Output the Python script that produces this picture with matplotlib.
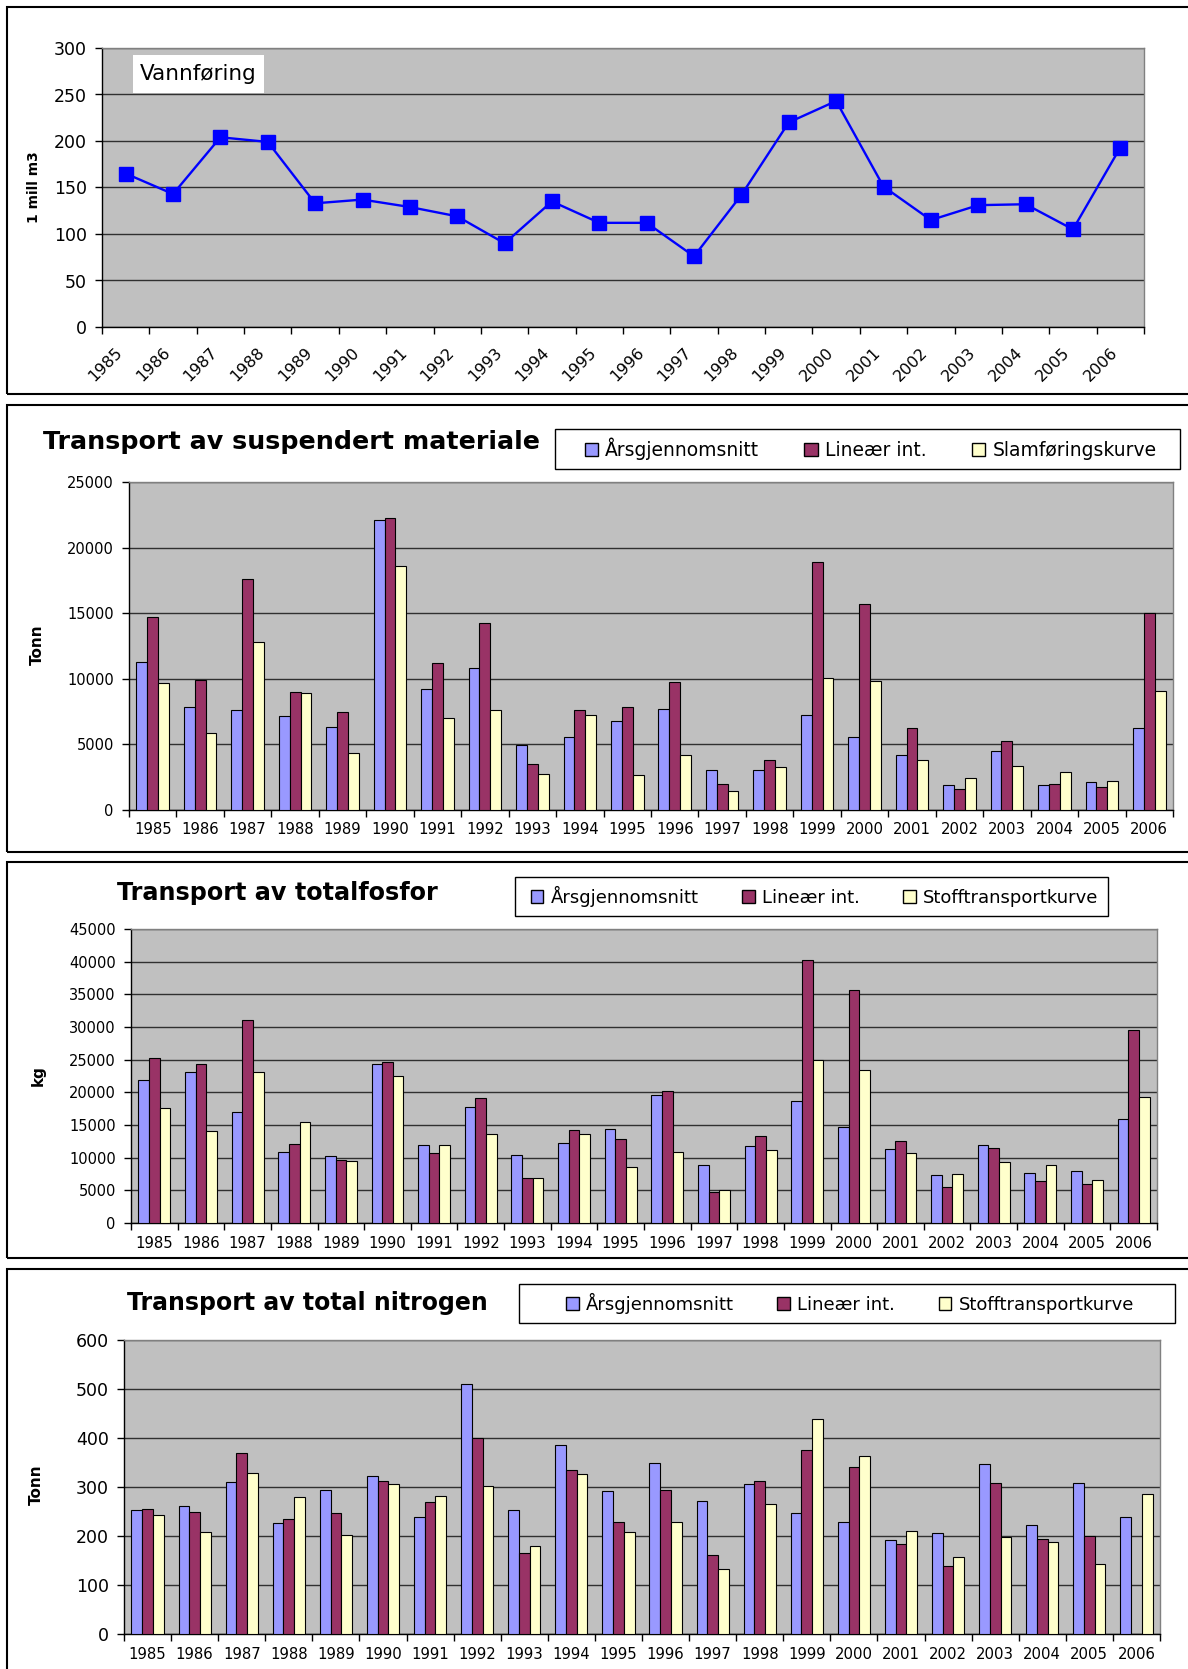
import numpy as np
import matplotlib.pyplot as plt
from matplotlib.patches import Rectangle, Patch

plt.rcParams["font.family"] = ["DejaVu Sans"]

W, H = 1188, 1669

# ------------------------------
# Data
# ------------------------------
years = [str(y) for y in range(1985, 2007)]

vannforing = [165, 143, 204, 199, 133, 137, 129, 119, 90, 135, 112,
              112, 76, 142, 220, 243, 151, 115, 131, 132, 105, 193]

# suspendert materiale (tonn)
ss_arsgj = [11300, 7840, 7610, 7160, 6290, 22130, 9240, 10790, 4920, 5530, 6780,
            7690, 3070, 3070, 7230, 5530, 4210, 1900, 4470, 1900, 2130, 6220]
ss_linear = [14700, 9920, 17610, 9010, 7440, 22230, 11220, 14240, 3530, 7610, 7840,
             9770, 1980, 3830, 18910, 15710, 6220, 1620, 5280, 1980, 1780, 15030]
ss_kurve = [9700, 5840, 12770, 8930, 4310, 18580, 7000, 7660, 2740, 7230, 2690,
            4160, 1450, 3300, 10080, 9820, 3830, 2460, 3380, 2920, 2230, 9090]

# totalfosfor (kg)
tp_arsgj = [21860, 23140, 16920, 10860, 10240, 24360, 11880, 17740, 10450, 12280, 14370,
            19570, 8870, 11770, 18600, 14630, 11310, 7340, 11980, 7590, 7900, 15900]
tp_linear = [25230, 24360, 31090, 12130, 9630, 24670, 10750, 19110, 6880, 14170, 12840,
             20180, 4740, 13350, 40260, 35630, 12540, 5500, 11420, 6470, 5960, 29610]
tp_kurve = [17640, 14020, 23140, 15390, 9480, 22480, 11980, 13660, 6880, 13660, 8560,
            10860, 4990, 11160, 24970, 23390, 10750, 7490, 9380, 8870, 6630, 19270]

# total nitrogen (tonn)
tn_arsgj = [253, 261, 310, 227, 293, 322, 238, 510, 253, 385, 292,
            350, 272, 307, 246, 228, 191, 207, 346, 222, 309, 238]
tn_linear = [256, 249, 370, 234, 246, 313, 270, 401, 165, 335, 229,
             294, 162, 313, 375, 341, 184, 139, 309, 194, 201, 0]
tn_kurve = [243, 209, 328, 279, 203, 306, 281, 302, 179, 326, 209,
            228, 133, 266, 438, 364, 210, 158, 197, 188, 143, 285]

series_colors = ["#9999FF", "#993366", "#FFFFCC"]
plot_bg = "#C0C0C0"
grid_col = "#303030"


def px_axes(x0, y0, x1, y1):
    """Add axes from pixel box (top-left origin)."""
    return fig.add_axes([x0 / W, 1 - y1 / H, (x1 - x0) / W, (y1 - y0) / H])


def px(x, y):
    return x / W, 1 - y / H


def panel_box(y0, y1):
    fig.patches.append(Rectangle(px(7, y1), (W + 20) / W, (y1 - y0) / H,
                                 transform=fig.transFigure, fill=False,
                                 ec="black", lw=1.5, clip_on=False))


def style_axes(ax, n, ymax, ystep, ytick_size):
    ax.set_facecolor(plot_bg)
    ax.set_xlim(0, n)
    ax.set_ylim(0, ymax)
    ax.set_yticks(np.arange(0, ymax + 1, ystep))
    ax.yaxis.grid(True, color=grid_col, lw=1.0)
    ax.set_axisbelow(True)
    for s in ["top", "right"]:
        ax.spines[s].set_color("#808080")
        ax.spines[s].set_linewidth(1.0)
    for s in ["left", "bottom"]:
        ax.spines[s].set_color("black")
        ax.spines[s].set_linewidth(1.0)
    # ticks at category boundaries, labels at centers
    ax.set_xticks(np.arange(0, n + 1))
    ax.set_xticklabels([])
    ax.set_xticks(np.arange(n) + 0.5, minor=True)
    ax.tick_params(axis="x", which="major", length=5, direction="out", width=1)
    ax.tick_params(axis="x", which="minor", length=0)
    ax.tick_params(axis="y", length=5, direction="out", width=1,
                   labelsize=ytick_size, pad=6)


def bar_panel(box, vals, labels, ymax, ystep, title, title_xy, title_size,
              ylabel, ylabel_xy, legend_box, legend_size, ytick_size):
    ax = px_axes(*box)
    n = len(years)
    x = np.arange(n) + 0.5
    w = 0.228
    for i, v in enumerate(vals):
        ax.bar(x + (i - 1) * w, v, width=w, color=series_colors[i],
               edgecolor="black", linewidth=0.8, zorder=3)
    style_axes(ax, n, ymax, ystep, ytick_size)
    ax.set_xticklabels(years, minor=True, fontsize=10.7)
    ax.tick_params(axis="x", which="minor", pad=9)

    fig.text(*px(*title_xy), title, fontsize=title_size, fontweight="bold",
             ha="left", va="center")
    fig.text(*px(*ylabel_xy), ylabel, fontsize=11, fontweight="bold",
             rotation=90, ha="center", va="center")

    lx0, ly0, lx1, ly1 = legend_box
    fig.patches.append(Rectangle(px(lx0, ly1), (lx1 - lx0) / W, (ly1 - ly0) / H,
                                 transform=fig.transFigure, fc="white",
                                 ec="black", lw=1.0, zorder=2))
    handles = [Patch(fc=c, ec="black", lw=1.0) for c in series_colors]
    leg = fig.legend(handles, labels, loc="center",
                     bbox_to_anchor=px((lx0 + lx1) / 2 + 3, (ly0 + ly1) / 2),
                     ncol=3, frameon=False, fontsize=legend_size,
                     handlelength=0.7, handleheight=0.7, handletextpad=0.4,
                     columnspacing=2.4, borderpad=0)
    leg.set_zorder(3)
    return ax


fig = plt.figure(figsize=(W / 100, H / 100), dpi=100)

# ------------------------------
# Panel 1: Vannføring
# ------------------------------
panel_box(7, 394)
ax1 = px_axes(102, 48, 1144, 327)
n = len(years)
ax1.plot(np.arange(n) + 0.5, vannforing, color="#0000FF", lw=1.7,
         marker="s", markersize=9.5, zorder=3)
style_axes(ax1, n, 300, 50, 12.5)
ax1.set_xticklabels(years, minor=True, fontsize=11.5, rotation=45,
                    ha="right", va="top")
ax1.tick_params(axis="x", which="minor", pad=13)
fig.patches.append(Rectangle(px(133, 93), 131 / W, 38 / H,
                             transform=fig.transFigure, fc="white", ec="none",
                             zorder=5))
fig.text(*px(198, 74), "Vannføring", fontsize=15.5, ha="center",
         va="center", zorder=6)
fig.text(*px(34, 187), "1 mill m3", fontsize=10, fontweight="bold",
         rotation=90, ha="center", va="center")

# ------------------------------
# Panel 2: suspendert materiale
# ------------------------------
panel_box(405, 852)
bar_panel((129, 482, 1173, 810), [ss_arsgj, ss_linear, ss_kurve],
          ["Årsgjennomsnitt", "Lineær int.", "Slamføringskurve"],
          25000, 5000, "Transport av suspendert materiale", (43, 442), 18.3,
          "Tonn", (37, 645), (555, 429, 1180, 469), 13.5, 10.5)

# ------------------------------
# Panel 3: totalfosfor
# ------------------------------
panel_box(862, 1258)
bar_panel((131, 929, 1157, 1223), [tp_arsgj, tp_linear, tp_kurve],
          ["Årsgjennomsnitt", "Lineær int.", "Stofftransportkurve"],
          45000, 5000, "Transport av totalfosfor", (117, 893), 17.2,
          "kg", (38, 1076), (515, 877, 1108, 916), 13, 10.5)

# ------------------------------
# Panel 4: total nitrogen
# ------------------------------
panel_box(1269, 1700)
bar_panel((124, 1340, 1160, 1634), [tn_arsgj, tn_linear, tn_kurve],
          ["Årsgjennomsnitt", "Lineær int.", "Stofftransportkurve"],
          600, 100, "Transport av total nitrogen", (127, 1303), 17,
          "Tonn", (36, 1485), (519, 1284, 1175, 1323), 13, 12.5)

fig.savefig("out.png", dpi=100)
